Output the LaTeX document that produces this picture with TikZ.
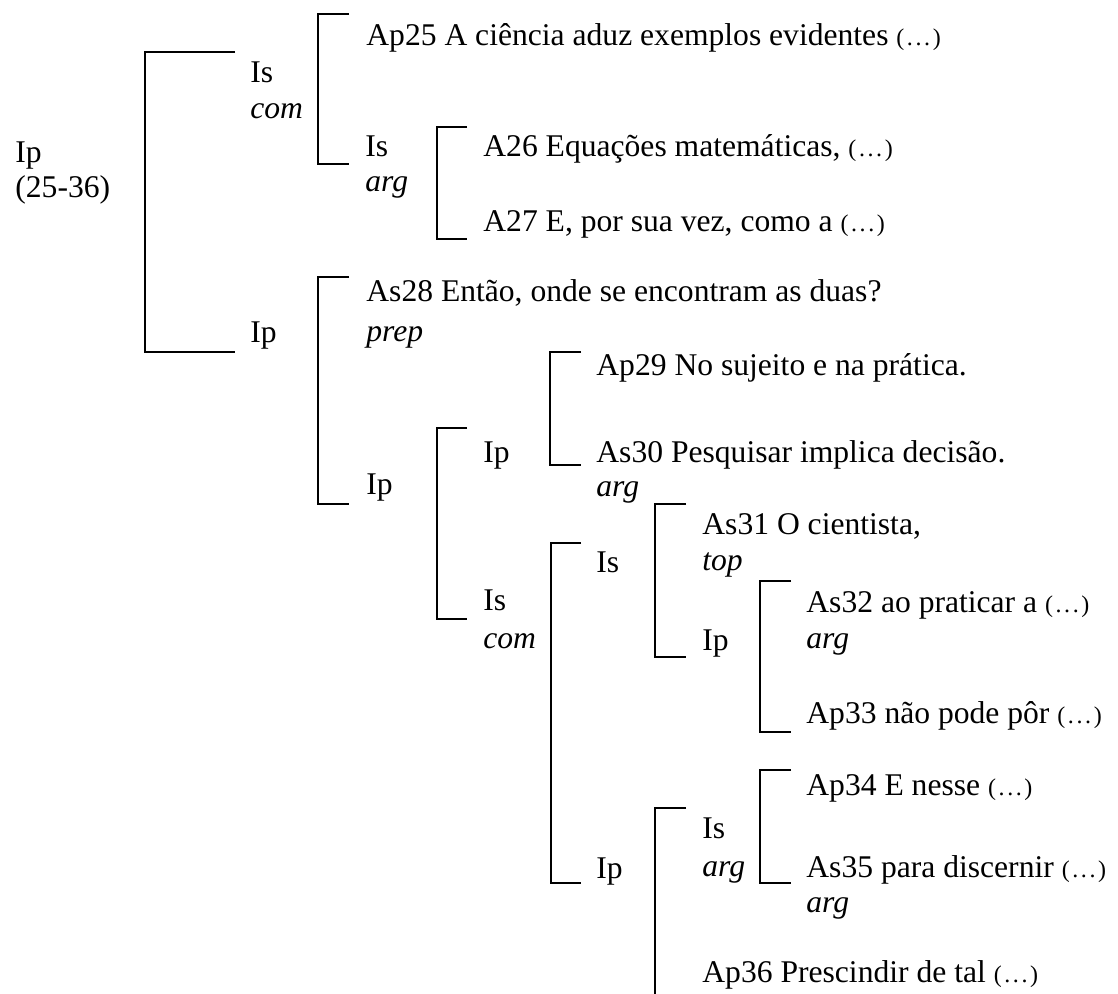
\documentclass[tikz,border=0pt]{standalone}
\usepackage{fontspec}
\setmainfont{Liberation Serif}
% elided continuation, set a little smaller than the running text
\newcommand\elide{{\fontsize{12}{14}\selectfont(\kern1.3pt.\kern1.3pt.\kern1.3pt.\kern1.3pt)}}
\begin{document}
\begin{tikzpicture}[x=0.5pt,y=-0.5pt,
  lbl/.style={anchor=base west,inner sep=0pt,font=\fontsize{15.8}{18}\selectfont},
  role/.style={lbl,font=\fontsize{15.8}{18}\selectfont\itshape},
  brk/.style={line width=1.35pt}]
\useasboundingbox (0,0) rectangle (1118,994);

% ---- labels ----
\node[lbl]  (root)  at (15,163)  {Ip};
\node[lbl]  (rootr) at (15,198)  {(25-36)};

\node[lbl]  (is1)   at (250,83)  {Is};
\node[role] (is1r)  at (250,119) {com};
\node[lbl]  (ip1)   at (250,343) {Ip};

\node[lbl]  (ap25)  at (366,46)  {Ap25 A ciência aduz exemplos evidentes \elide};
\node[lbl]  (is2)   at (365,157) {Is};
\node[role] (is2r)  at (365,192) {arg};

\node[lbl]  (a26)   at (483,157) {A26 Equações matemáticas, \elide};
\node[lbl]  (a27)   at (483,232) {A27 E, por sua vez, como a \elide};

\node[lbl]  (as28)  at (366,302) {As28 Então, onde se encontram as duas?};
\node[role] (as28r) at (366,342) {prep};
\node[lbl]  (ip2)   at (366,494) {Ip};

\node[lbl]  (ip3)   at (483,462) {Ip};
\node[lbl]  (is3)   at (483,610) {Is};
\node[role] (is3r)  at (483,648) {com};

\node[lbl]  (ap29)  at (596,375) {Ap29 No sujeito e na prática.};
\node[lbl]  (as30)  at (596,462) {As30 Pesquisar implica decisão.};
\node[role] (as30r) at (596,496) {arg};

\node[lbl]  (is4)   at (596,572) {Is};
\node[lbl]  (ip4)   at (596,878) {Ip};

\node[lbl]  (as31)  at (702,534) {As31 O cientista,};
\node[role] (as31r) at (702,570) {top};
\node[lbl]  (ip5)   at (702,650) {Ip};

\node[lbl]  (as32)  at (806,612) {As32 ao praticar a \elide};
\node[role] (as32r) at (806,648) {arg};
\node[lbl]  (ap33)  at (806,723) {Ap33 não pode pôr \elide};

\node[lbl]  (is5)   at (702,838) {Is};
\node[role] (is5r)  at (702,876) {arg};

\node[lbl]  (ap34)  at (806,795) {Ap34 E nesse \elide};
\node[lbl]  (as35)  at (806,877) {As35 para discernir \elide};
\node[role] (as35r) at (806,912) {arg};

\node[lbl]  (ap36)  at (702,982) {Ap36 Prescindir de tal \elide};

% ---- bracket ends ----
\coordinate (aT) at (235,52);  \coordinate (aB) at (235,352);
\coordinate (bT) at (349,14);  \coordinate (bB) at (349,164);
\coordinate (cT) at (467,127); \coordinate (cB) at (467,239);
\coordinate (dT) at (349,277); \coordinate (dB) at (349,504);
\coordinate (eT) at (467,428); \coordinate (eB) at (467,619);
\coordinate (fT) at (581,352); \coordinate (fB) at (581,465);
\coordinate (gT) at (581,543); \coordinate (gB) at (581,883);
\coordinate (hT) at (686,504); \coordinate (hB) at (686,657);
\coordinate (iT) at (791,581); \coordinate (iB) at (791,732);
\coordinate (jT) at (686,808);
\coordinate (kT) at (791,770); \coordinate (kB) at (791,883);

% ---- brackets ----
\draw[brk] (aT) -- ++(-90,0) |- (aB);
\draw[brk] (bT) -- ++(-31,0) |- (bB);
\draw[brk] (cT) -- ++(-30,0) |- (cB);
\draw[brk] (dT) -- ++(-31,0) |- (dB);
\draw[brk] (eT) -- ++(-30,0) |- (eB);
\draw[brk] (fT) -- ++(-31,0) |- (fB);
\draw[brk] (gT) -- ++(-30,0) |- (gB);
\draw[brk] (hT) -- ++(-31,0) |- (hB);
\draw[brk] (iT) -- ++(-31,0) |- (iB);
\draw[brk] (jT) -- ++(-31,0) -- ++(0,190);
\draw[brk] (kT) -- ++(-31,0) |- (kB);
\end{tikzpicture}
\end{document}
